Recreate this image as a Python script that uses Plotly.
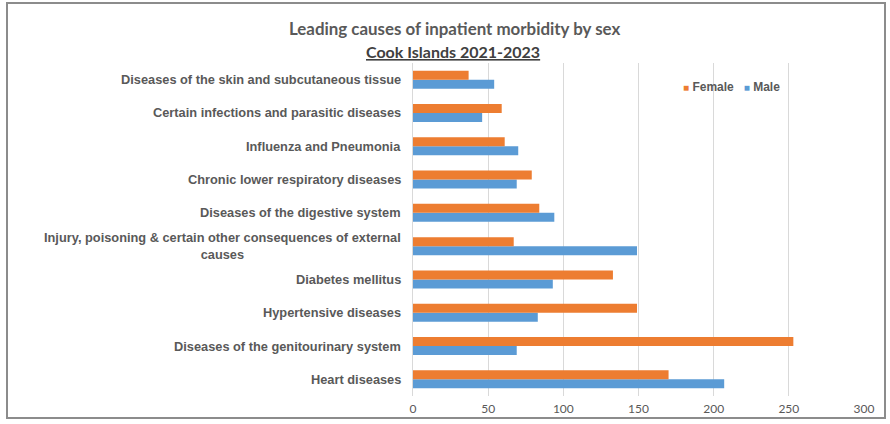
import plotly.graph_objects as go

# Categories listed bottom-to-top as they appear on the axis
causes = [
    "Heart diseases",
    "Diseases of the genitourinary system",
    "Hypertensive diseases",
    "Diabetes mellitus",
    "Injury, poisoning & certain other consequences of external<br>causes",
    "Diseases of the digestive system",
    "Chronic lower respiratory diseases",
    "Influenza and Pneumonia",
    "Certain infections and parasitic diseases",
    "Diseases of the skin and subcutaneous tissue",
]
female = [170, 253, 149, 133, 67, 84, 79, 61, 59, 37]
male = [207, 69, 83, 93, 149, 94, 69, 70, 46, 54]
x_ticks = [0, 50, 100, 150, 200, 250, 300]

W, H = 890, 424
ML, MR, MT, MB = 413, 26, 63, 28
GREY = "#595959"
ORANGE = "#ED7D31"
BLUE = "#5B9BD5"

fig = go.Figure()
fig.add_trace(go.Bar(
    y=causes, x=male, name="Male", orientation="h",
    marker=dict(color=BLUE, line=dict(width=0)),
))
fig.add_trace(go.Bar(
    y=causes, x=female, name="Female", orientation="h",
    marker=dict(color=ORANGE, line=dict(width=0)),
))

pw = W - ML - MR
ph = H - MT - MB


def px_x(p):
    return (p - ML) / pw


def px_y(p):
    return (H - MB - p) / ph


# Outer chart frame
fig.add_shape(
    type="rect", xref="paper", yref="paper",
    x0=px_x(7), x1=px_x(885), y0=px_y(418), y1=px_y(3),
    line=dict(color="#8c8c8c", width=2), layer="below",
)

# Title (two lines, second underlined)
fig.add_annotation(
    text="Leading causes of inpatient morbidity by sex",
    xref="paper", yref="paper", x=px_x(454), y=px_y(28),
    xanchor="center", yanchor="middle", showarrow=False,
    font=dict(family="Lato", size=16.9, color=GREY, weight="bold"),
)
fig.add_annotation(
    text="Cook Islands 2021-2023",
    xref="paper", yref="paper", x=px_x(453), y=px_y(52),
    xanchor="center", yanchor="middle", showarrow=False,
    font=dict(family="Lato", size=16, color="#404040", weight="bold",
              lineposition="under"),
)

# Category labels, centred line-by-line like the source layout
for name in causes:
    fig.add_annotation(
        text=name, xref="paper", yref="y", x=px_x(403), y=name,
        xanchor="right", yanchor="middle", align="center", showarrow=False,
        font=dict(family="Liberation Sans", size=12.8, color=GREY, weight="bold"),
    )

# Compact legend: small coloured squares beside the series names
fig.add_annotation(
    text=(f"<span style='color:{ORANGE}; font-size:10px'>■</span> Female   "
          f"<span style='color:{BLUE}; font-size:10px'>■</span> Male"),
    xref="paper", yref="paper", x=px_x(681), y=px_y(87),
    xanchor="left", yanchor="middle", showarrow=False,
    font=dict(family="Liberation Sans", size=12, color=GREY, weight=600),
)

fig.update_layout(
    width=W, height=H,
    margin=dict(l=ML, r=MR, t=MT, b=MB, autoexpand=False),
    paper_bgcolor="white", plot_bgcolor="white",
    barmode="group", bargap=0.46, bargroupgap=0,
    showlegend=False,
    xaxis=dict(
        range=[0, 300], tickvals=x_ticks, ticktext=[str(v) for v in x_ticks],
        showgrid=True, gridcolor="#d9d9d9", gridwidth=1,
        zeroline=False, showline=False, ticks="",
        tickfont=dict(family="Lato", size=12, color=GREY),
        ticklabelstandoff=4, fixedrange=True,
    ),
    yaxis=dict(
        categoryorder="array", categoryarray=causes,
        showgrid=False, zeroline=False, showline=True,
        linecolor="#d9d9d9", linewidth=1, ticks="",
        showticklabels=False, fixedrange=True,
    ),
)

fig.write_html("out.html")
